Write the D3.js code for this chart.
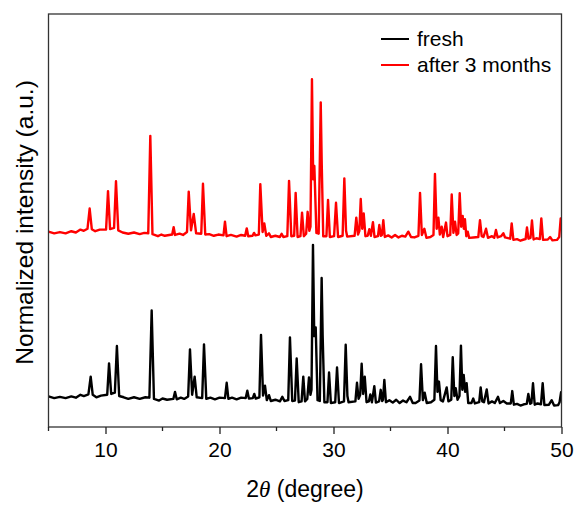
<!DOCTYPE html>
<meta charset="utf-8">
<style>
body {
  margin: 0;
  padding: 0;
  background: #fff;
}
text {
  font-family: Arial, "Liberation Sans", sans-serif;
  fill: #000;
}
</style>
<body>
<script src="https://d3js.org/d3.v7.min.js"></script>
<script>

// x range and tick labels
var xDomain = [5, 50];
var xMajorTicks = [10, 20, 30, 40, 50];
var xMinorTicks = [5, 15, 25, 35, 45];

var seriesNames = ["fresh", "after 3 months"];
var seriesColors = ["#000000", "#ff0000"];

// traced profile of the fresh sample, [2theta, normalized intensity]
var freshTrace = [
  [5.0, 7.4], [5.5, 7.0], [6.0, 7.3], [6.5, 7.0], [7.0, 7.4], [7.4, 7.1], [7.8, 7.8], [8.1, 7.5], [8.5, 7.9], [8.70, 12.2], [8.88, 7.8],
  [9.2, 7.2], [9.6, 7.6], [10.15, 7.8], [10.31, 15.4], [10.5, 8.0], [10.82, 8.3], [11.0, 19.6], [11.2, 7.5],
  [11.6, 7.2], [12.0, 6.8], [12.5, 7.2], [13.0, 6.8], [13.5, 7.2], [13.85, 7.1], [14.05, 28.2], [14.25, 6.8], [14.7, 6.4],
  [15.0, 6.9], [15.4, 6.6], [15.95, 6.8], [16.1, 8.5], [16.25, 6.7],
  [16.6, 7.1], [16.9, 6.8], [17.25, 7.4], [17.41, 18.8], [17.6, 7.8], [17.82, 12.2], [18.0, 7.2],
  [18.48, 7.0], [18.64, 20.0], [18.84, 6.8],
  [19.2, 7.1], [19.6, 6.7], [20.0, 7.1], [20.48, 7.0], [20.63, 10.7], [20.78, 6.8],
  [21.1, 7.1], [21.5, 6.7], [21.9, 7.1], [22.3, 7.0], [22.44, 8.8], [22.58, 6.9], [22.92, 7.0], [23.05, 8.0], [23.18, 6.9],
  [23.5, 7.2], [23.64, 22.3], [23.82, 7.6], [23.99, 10.0], [24.15, 6.5], [24.34, 7.7], [24.5, 6.3],
  [24.9, 6.6], [25.3, 6.2], [25.51, 7.3], [25.7, 6.3],
  [26.03, 6.5], [26.18, 21.7], [26.38, 6.3], [26.62, 6.4], [26.77, 16.6], [26.95, 6.0],
  [27.2, 6.2], [27.35, 12.2], [27.5, 6.2], [27.7, 6.8], [27.85, 12.0], [27.98, 7.8],
  [28.07, 9.0], [28.20, 44.1], [28.31, 22.0], [28.44, 24.1], [28.6, 6.5],
  [28.8, 6.3], [28.96, 36.1], [29.05, 22.0], [29.2, 6.0],
  [29.47, 6.0], [29.61, 13.2], [29.77, 5.8], [30.15, 6.0], [30.31, 14.4], [30.48, 5.8],
  [30.92, 6.2], [31.07, 19.9], [31.22, 7.5], [31.32, 6.0],
  [31.92, 6.2], [32.06, 10.7], [32.2, 6.8], [32.34, 7.8], [32.47, 15.3], [32.6, 8.0], [32.74, 12.2], [32.9, 6.0],
  [33.1, 6.2], [33.23, 7.9], [33.37, 6.0], [33.58, 9.9], [33.72, 5.9],
  [34.0, 6.2], [34.14, 9.0], [34.27, 6.3], [34.34, 6.6], [34.46, 11.4], [34.6, 6.0],
  [34.9, 6.5], [35.2, 5.9], [35.5, 6.6], [35.8, 5.8], [36.1, 6.4], [36.4, 6.0], [36.71, 7.3], [36.95, 5.8],
  [37.2, 5.8], [37.54, 6.4], [37.68, 15.2], [37.84, 6.5], [38.0, 8.3], [38.18, 5.8],
  [38.55, 6.0], [38.85, 6.6], [38.99, 19.6], [39.12, 8.5], [39.25, 11.0], [39.4, 6.5],
  [39.6, 6.2], [39.93, 9.6], [40.08, 6.2],
  [40.33, 6.6], [40.46, 16.9], [40.6, 7.5], [40.72, 9.4], [40.88, 6.6], [41.05, 7.5], [41.18, 19.7],
  [41.3, 9.0], [41.42, 12.6], [41.55, 8.5], [41.68, 10.6], [41.82, 5.8],
  [42.1, 5.8], [42.26, 6.9], [42.4, 5.7], [42.78, 6.0], [42.91, 9.6], [43.05, 6.2], [43.2, 6.0],
  [43.44, 9.1], [43.6, 5.7], [43.9, 6.2], [44.15, 5.8], [44.43, 7.3], [44.6, 5.8], [44.9, 6.3], [45.2, 5.7],
  [45.55, 5.7], [45.68, 8.7], [45.82, 5.4],
  [46.1, 5.6], [46.4, 5.2], [46.7, 5.5], [46.95, 5.6], [47.09, 8.0], [47.25, 5.6], [47.36, 5.8], [47.50, 10.6], [47.65, 5.4],
  [47.9, 5.7], [48.2, 5.5], [48.35, 10.6], [48.5, 5.3], [48.9, 5.4], [49.14, 6.5], [49.35, 5.2],
  [49.7, 5.3], [49.83, 6.0], [49.96, 8.4], [50.0, 7.5]
];

// traced profile after 3 months, [2theta, normalized intensity]
var agedTrace = [
  [5.0, 47.3], [5.5, 46.9], [6.0, 47.2], [6.5, 46.9], [7.0, 47.4], [7.4, 47.1], [7.8, 47.8], [8.1, 47.5], [8.42, 48.0], [8.61, 52.9], [8.8, 47.9],
  [9.1, 47.4], [9.5, 47.8], [10.05, 47.8], [10.22, 57.1], [10.4, 47.9], [10.75, 48.2], [10.92, 59.5], [11.12, 47.6],
  [11.5, 47.1], [12.0, 46.8], [12.5, 47.1], [13.0, 46.7], [13.4, 47.0], [13.75, 46.9], [13.93, 70.5], [14.12, 46.7], [14.6, 46.2],
  [14.9, 46.6], [15.2, 46.3], [15.85, 46.6], [15.98, 48.4], [16.1, 46.5],
  [16.5, 46.8], [16.8, 46.5], [17.15, 47.2], [17.30, 57.0], [17.5, 47.6], [17.74, 51.6], [17.95, 46.9],
  [18.4, 46.8], [18.55, 58.9], [18.75, 46.6],
  [19.1, 46.7], [19.5, 46.3], [19.9, 46.6], [20.35, 46.4], [20.48, 49.7], [20.62, 46.2],
  [21.0, 46.5], [21.5, 46.1], [21.9, 46.5], [22.25, 46.3], [22.39, 48.1], [22.52, 46.2], [22.9, 46.3], [23.03, 47.0], [23.15, 46.4],
  [23.45, 46.6], [23.58, 58.8], [23.78, 47.2], [23.93, 49.3], [24.1, 46.3], [24.34, 46.9], [24.5, 46.0],
  [24.9, 46.3], [25.3, 46.0], [25.45, 46.8], [25.6, 46.0],
  [25.95, 46.2], [26.10, 59.6], [26.3, 46.2], [26.55, 46.3], [26.68, 56.7], [26.85, 46.0],
  [27.1, 46.2], [27.24, 51.9], [27.4, 46.2], [27.6, 46.8], [27.73, 52.1], [27.88, 47.5],
  [27.98, 48.5], [28.11, 84.2], [28.22, 60.0], [28.32, 63.2], [28.5, 47.0],
  [28.7, 46.8], [28.88, 78.6], [28.97, 63.5], [29.1, 46.2],
  [29.38, 46.2], [29.52, 55.0], [29.68, 46.0], [30.05, 46.2], [30.22, 54.3], [30.4, 46.0],
  [30.8, 46.3], [30.95, 60.2], [31.1, 47.5], [31.2, 46.1],
  [31.85, 46.3], [32.0, 50.7], [32.15, 46.6], [32.27, 47.5], [32.39, 55.2], [32.52, 48.0], [32.65, 51.7], [32.8, 46.2],
  [33.0, 46.3], [33.14, 47.9], [33.28, 46.3], [33.46, 49.6], [33.6, 46.0],
  [33.9, 46.2], [34.02, 48.9], [34.15, 46.3], [34.25, 46.5], [34.37, 50.1], [34.5, 46.0],
  [34.8, 46.4], [35.1, 45.9], [35.4, 46.5], [35.7, 45.9], [36.0, 46.3], [36.3, 46.1], [36.56, 47.3], [36.8, 46.0],
  [37.1, 45.9], [37.45, 46.3], [37.59, 56.7], [37.75, 46.5], [37.97, 48.0], [38.15, 45.8],
  [38.5, 46.0], [38.77, 46.5], [38.90, 61.3], [39.05, 48.0], [39.2, 50.7], [39.33, 46.6],
  [39.49, 48.5], [39.62, 46.0], [39.87, 49.5], [40.0, 46.2],
  [40.24, 46.5], [40.37, 56.3], [40.52, 47.0], [40.66, 49.7], [40.8, 46.5], [40.94, 46.9], [41.07, 56.6],
  [41.2, 48.5], [41.33, 51.1], [41.43, 48.0], [41.53, 50.3], [41.65, 46.2], [41.77, 47.3], [41.9, 45.8],
  [42.26, 45.9], [42.7, 46.0], [42.85, 50.1], [43.0, 46.2], [43.15, 46.0], [43.38, 48.0], [43.55, 45.8],
  [43.9, 46.2], [44.1, 45.8], [44.25, 47.7], [44.4, 45.9], [44.7, 46.2], [44.9, 46.9], [45.05, 45.9],
  [45.5, 45.6], [45.63, 49.3], [45.78, 45.3],
  [46.1, 45.5], [46.4, 45.1], [46.7, 45.4], [46.85, 45.5], [46.97, 48.3], [47.1, 45.6], [47.28, 45.8], [47.41, 50.0], [47.55, 45.4],
  [47.8, 45.7], [48.1, 45.5], [48.23, 50.5], [48.38, 45.3], [48.8, 45.4], [49.0, 46.0], [49.2, 45.2],
  [49.6, 45.3], [49.8, 46.0], [49.93, 50.5], [50.0, 48.0]
];

var width = 578,
    height = 506,
    margin = {top: 14, right: 16.5, bottom: 79, left: 48.5};

var plotW = width - margin.left - margin.right,
    plotH = height - margin.top - margin.bottom;

var svg = d3.select("body").append("svg")
    .attr("width", width)
    .attr("height", height);

var x = d3.scaleLinear().domain(xDomain).range([margin.left, margin.left + plotW]);
var y = d3.scaleLinear().domain([0, 100]).range([margin.top + plotH, margin.top]);

var line = d3.line()
    .x(function(d) { return x(d[0]); })
    .y(function(d) { return y(d[1]); });

var g = svg.append("g");

g.append("clipPath").attr("id", "clip")
  .append("rect")
    .attr("x", margin.left)
    .attr("y", margin.top)
    .attr("width", plotW)
    .attr("height", plotH);

[freshTrace, agedTrace].forEach(function(trace, i) {
  g.append("path")
      .datum(trace)
      .attr("clip-path", "url(#clip)")
      .attr("fill", "none")
      .attr("stroke", seriesColors[i])
      .attr("stroke-width", 2.4)
      .attr("stroke-linejoin", "round")
      .attr("d", line);
});

// frame
svg.append("rect")
    .attr("x", margin.left)
    .attr("y", margin.top)
    .attr("width", plotW)
    .attr("height", plotH)
    .attr("fill", "none")
    .attr("stroke", "#333")
    .attr("stroke-width", 1.3);

// bottom axis, ticks outward
var xAxis = svg.append("g")
    .attr("transform", "translate(0," + (margin.top + plotH) + ")")
    .call(d3.axisBottom(x).tickValues(xMajorTicks).tickSize(7).tickPadding(8).tickFormat(d3.format("d")));
xAxis.select(".domain").remove();
xAxis.selectAll("line").attr("stroke", "#222").attr("stroke-width", 1.3);
xAxis.selectAll("text")
    .attr("fill", "#000")
    .style("font-size", "21px")
    .style("font-family", "Arial, 'Liberation Sans', sans-serif");

svg.append("g")
    .attr("transform", "translate(0," + (margin.top + plotH) + ")")
    .selectAll("line")
    .data(xMinorTicks)
  .enter().append("line")
    .attr("x1", function(d) { return x(d); })
    .attr("x2", function(d) { return x(d); })
    .attr("y1", 0)
    .attr("y2", 4)
    .attr("stroke", "#222")
    .attr("stroke-width", 1.3);

// axis titles
var xTitle = svg.append("text")
    .attr("x", margin.left + plotW / 2)
    .attr("y", 497)
    .attr("text-anchor", "middle")
    .style("font-size", "23px");
xTitle.append("tspan").text("2");
xTitle.append("tspan")
    .style("font-family", "'Liberation Serif', 'DejaVu Serif', serif")
    .style("font-style", "italic")
    .text("\u03B8");
xTitle.append("tspan").text(" (degree)");

svg.append("text")
    .attr("transform", "translate(33," + (margin.top + plotH / 2 + 2) + ") rotate(-90)")
    .attr("text-anchor", "middle")
    .style("font-size", "24.5px")
    .text("Normalized intensity (a.u.)");

// legend
var legend = svg.append("g");
seriesNames.forEach(function(name, i) {
  var ly = 39 + i * 26;
  legend.append("line")
      .attr("x1", 381)
      .attr("x2", 409)
      .attr("y1", ly)
      .attr("y2", ly)
      .attr("stroke", seriesColors[i])
      .attr("stroke-width", 2);
  legend.append("text")
      .attr("x", 417)
      .attr("y", ly + 7)
      .style("font-size", "21px")
      .text(name);
});

</script>
